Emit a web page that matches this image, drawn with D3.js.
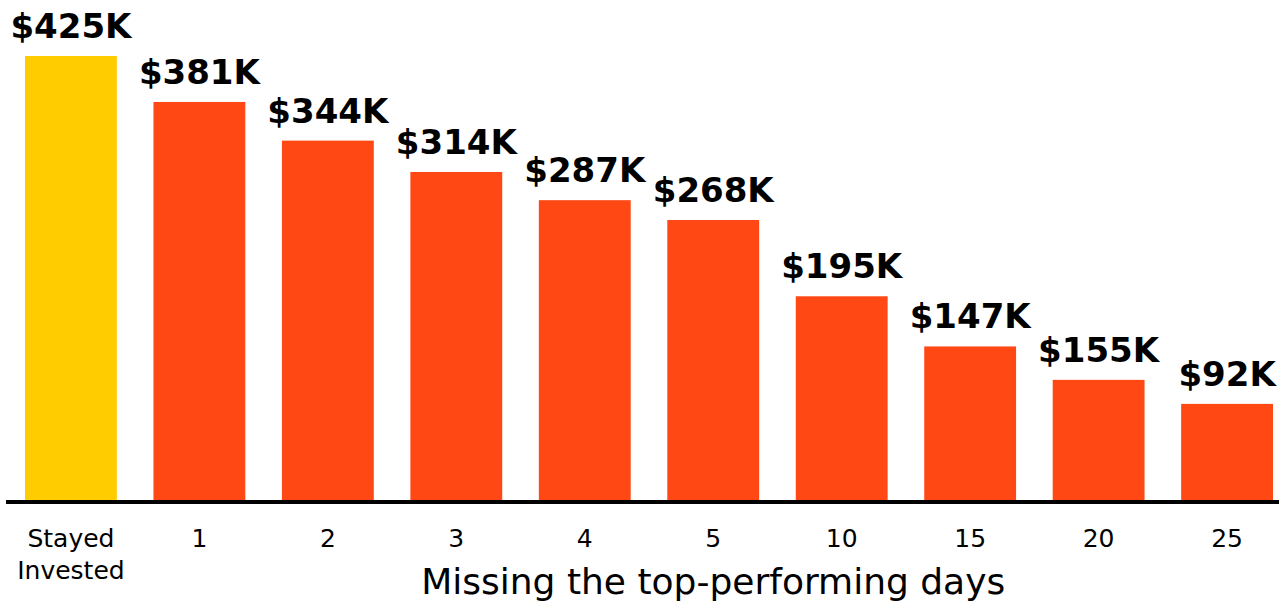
<!DOCTYPE html>
<html>
<head>
<meta charset="utf-8">
<script src="https://cdn.jsdelivr.net/npm/d3@7"></script>
<style>
  body { margin: 0; background: #fff; }
  svg { display: block; }
</style>
</head>
<body>
<div id="chart"></div>
<script>
var categories = ["Stayed Invested", "1", "2", "3", "4", "5", "10", "15", "20", "25"];
var values = [425, 381, 344, 314, 287, 268, 195, 147, 115, 92];
var valueLabels = ["$425K", "$381K", "$344K", "$314K", "$287K", "$268K", "$195K", "$147K", "$155K", "$92K"];
var axisTitle = "Missing the top-performing days";

var width = 1279,
    height = 603;

var svg = d3.select("#chart").append("svg")
    .attr("width", width)
    .attr("height", height);

var x = d3.scaleBand()
    .domain(categories)
    .range([25, 1273])
    .paddingInner(0.285)
    .paddingOuter(0);

var y = d3.scaleLinear()
    .domain([0, 425])
    .range([500, 56]);

// bars
svg.selectAll(".bar")
    .data(values)
    .enter().append("rect")
    .attr("class", "bar")
    .attr("x", function(d, i) { return x(categories[i]); })
    .attr("y", function(d) { return y(d); })
    .attr("width", x.bandwidth())
    .attr("height", function(d) { return y(0) - y(d); })
    .attr("fill", function(d, i) { return i == 0 ? "#FFCC00" : "#FF4814"; });

// value labels
svg.selectAll(".lbl")
    .data(values)
    .enter().append("text")
    .attr("class", "lbl")
    .attr("x", function(d, i) { return x(categories[i]) + x.bandwidth() / 2; })
    .attr("y", function(d) { return y(d) - 18; })
    .attr("text-anchor", "middle")
    .style("font-family", "DejaVu Sans, sans-serif")
    .style("font-weight", "bold")
    .style("font-size", "34px")
    .style("fill", "#000")
    .text(function(d, i) { return valueLabels[i]; });

// axis
var xAxis = d3.axisBottom(x).tickSize(0).tickPadding(0);
var gx = svg.append("g")
    .attr("transform", "translate(0,502)")
    .call(xAxis);
gx.select(".domain").remove();
gx.append("line")
    .attr("x1", 6).attr("x2", width)
    .attr("y1", 0).attr("y2", 0)
    .attr("stroke", "#000")
    .attr("stroke-width", 4);

gx.selectAll(".tick text").each(function(d) {
    var t = d3.select(this);
    var words = d.split(" ");
    t.text(null)
        .attr("y", 0)
        .attr("dy", null)
        .style("font-family", "DejaVu Sans, sans-serif")
        .style("font-size", "25px")
        .style("fill", "#000");
    words.forEach(function(w, k) {
        t.append("tspan")
            .attr("x", 0)
            .attr("y", 45 + k * 32)
            .text(w);
    });
});

svg.append("text")
    .attr("x", (x(categories[1]) + x(categories[9]) + x.bandwidth()) / 2)
    .attr("y", 594)
    .attr("text-anchor", "middle")
    .style("font-family", "DejaVu Sans, sans-serif")
    .style("font-size", "36px")
    .style("fill", "#000")
    .text(axisTitle);
</script>
</body>
</html>
